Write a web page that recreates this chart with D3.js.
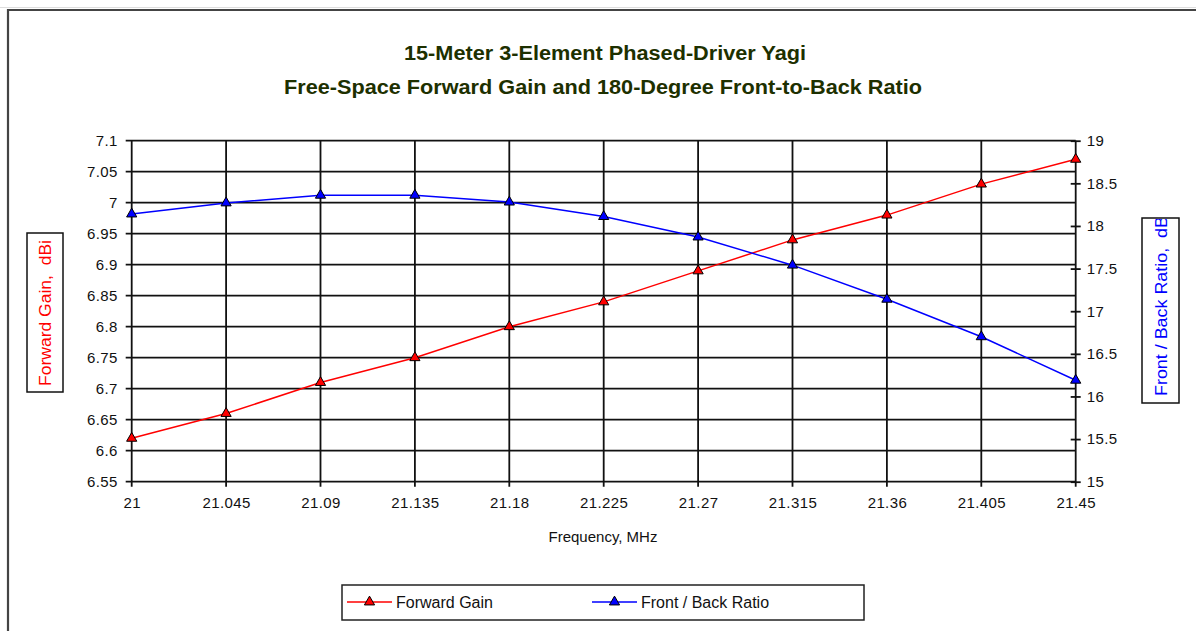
<script src="https://d3js.org/d3.v7.min.js"></script>
<style>
body { margin: 0; background: #fff; }
svg { display: block; font-family: "Liberation Sans", Arial, sans-serif; }
</style>

<svg width="1196" height="631"></svg>

<script>
const freq = [21, 21.045, 21.09, 21.135, 21.18, 21.225, 21.27, 21.315, 21.36, 21.405, 21.45];
const gain = [6.62, 6.66, 6.71, 6.75, 6.80, 6.84, 6.89, 6.94, 6.98, 7.03, 7.07];
const fbRatio = [18.14, 18.27, 18.36, 18.36, 18.28, 18.11, 17.87, 17.54, 17.14, 16.70, 16.19];

const gainTicks = [6.55, 6.6, 6.65, 6.7, 6.75, 6.8, 6.85, 6.9, 6.95, 7, 7.05, 7.1];
const fbTicks = [15, 15.5, 16, 16.5, 17, 17.5, 18, 18.5, 19];

const titleLines = ['15-Meter 3-Element Phased-Driver Yagi', 'Free-Space Forward Gain and 180-Degree Front-to-Back Ratio'];

const plotL = 131.7, plotR = 1075.7, plotT = 140.7, plotB = 481.7;

const svg = d3.select('svg');

const x = d3.scalePoint().domain(freq).range([plotL, plotR]);
const yGain = d3.scaleLinear().domain([6.55, 7.1]).range([plotB, plotT]);
const yFb = d3.scaleLinear().domain([15, 19]).range([plotB, plotT]);

// outer frame
svg.append('line').attr('x1', 0).attr('x2', 1196).attr('y1', 7.5).attr('y2', 7.5)
  .attr('stroke', '#ddd').attr('stroke-width', 1);
svg.append('path').attr('d', 'M8,631V10H1196').attr('fill', 'none')
  .attr('stroke', '#444').attr('stroke-width', 2.2);

// title
svg.selectAll('.title')
  .data(titleLines)
  .enter()
  .append('text')
  .attr('class', 'title')
  .attr('x', (d, i) => i ? 603 : 605)
  .attr('y', (d, i) => i ? 94 : 60)
  .attr('text-anchor', 'middle')
  .attr('textLength', (d, i) => i ? 638 : 402)
  .attr('lengthAdjust', 'spacingAndGlyphs')
  .style('font-family', '"Liberation Sans Narrow", "Arial Narrow", "Liberation Sans", sans-serif')
  .style('font-weight', 'bold')
  .style('font-size', '20px')
  .attr('fill', '#1d3000')
  .text(d => d);

// grid
const grid = svg.append('g').attr('stroke', '#111').attr('stroke-width', 1.8);
grid.selectAll('.h')
  .data(gainTicks)
  .enter()
  .append('line')
  .attr('x1', plotL - 6).attr('x2', plotR)
  .attr('y1', d => yGain(d)).attr('y2', d => yGain(d));
grid.selectAll('.v')
  .data(freq)
  .enter()
  .append('line')
  .attr('x1', d => x(d)).attr('x2', d => x(d))
  .attr('y1', plotT).attr('y2', plotB + 5);

// axes
const gL = svg.append('g').attr('transform', `translate(${plotL},0)`)
  .call(d3.axisLeft(yGain).tickValues(gainTicks).tickFormat(d => d).tickSize(0).tickPadding(14));
const gR = svg.append('g').attr('transform', `translate(${plotR},0)`)
  .call(d3.axisRight(yFb).tickValues(fbTicks).tickFormat(d => d).tickSize(5).tickPadding(6));
gR.selectAll('.tick line').attr('x1', -5).attr('stroke', '#111').attr('stroke-width', 1.8);
const gB = svg.append('g').attr('transform', `translate(0,${plotB})`)
  .call(d3.axisBottom(x).tickFormat(d => d).tickSize(0).tickPadding(16));
[gL, gR, gB].forEach(g => g.select('.domain').remove());
svg.selectAll('.tick text')
  .attr('font-family', null).attr('font-size', null)
  .style('font-size', '15px').style('letter-spacing', '0.4px').attr('fill', '#111');

// axis titles
svg.append('text')
  .attr('x', 603).attr('y', 542)
  .attr('text-anchor', 'middle')
  .style('font-size', '15px').attr('fill', '#111')
  .text('Frequency, MHz');

svg.append('rect').attr('x', 27).attr('y', 233).attr('width', 36).attr('height', 159)
  .attr('fill', 'none').attr('stroke', '#111').attr('stroke-width', 1.5);
svg.append('text')
  .attr('transform', 'translate(51,313) rotate(-90)')
  .attr('text-anchor', 'middle')
  .attr('textLength', 146).attr('lengthAdjust', 'spacingAndGlyphs')
  .style('font-size', '16px').attr('fill', '#f00')
  .attr('xml:space', 'preserve')
  .text('Forward Gain,  dBi');

svg.append('clipPath').attr('id', 'rclip')
  .append('rect').attr('x', 1142).attr('y', 219).attr('width', 37).attr('height', 184);
svg.append('g')
  .attr('clip-path', 'url(#rclip)')
  .append('text')
  .attr('transform', 'translate(1167,396) rotate(-90)')
  .attr('textLength', 180).attr('lengthAdjust', 'spacingAndGlyphs')
  .style('font-size', '16px').attr('fill', '#00f')
  .attr('xml:space', 'preserve')
  .text('Front / Back Ratio,  dB');
svg.append('rect').attr('x', 1142).attr('y', 218).attr('width', 37).attr('height', 185)
  .attr('fill', 'none').attr('stroke', '#111').attr('stroke-width', 1.5);

// series
const series = [
  { name: 'Forward Gain', values: gain, y: yGain, color: '#f00' },
  { name: 'Front / Back Ratio', values: fbRatio, y: yFb, color: '#00f' }
];
const tri = d3.symbol().type(d3.symbolTriangle).size(45);

series.forEach(s => {
  const line = d3.line().x((d, i) => x(freq[i])).y(d => s.y(d));
  svg.append('path').attr('d', line(s.values)).attr('fill', 'none')
    .attr('stroke', s.color).attr('stroke-width', 1.5);
  svg.selectAll(null)
    .data(s.values)
    .enter()
    .append('path')
    .attr('d', tri)
    .attr('transform', (d, i) => `translate(${x(freq[i])},${s.y(d)})`)
    .attr('fill', s.color).attr('stroke', '#000').attr('stroke-width', 1);
});

// legend
const legend = svg.append('g');
legend.append('rect').attr('x', 342).attr('y', 585).attr('width', 522).attr('height', 35)
  .attr('fill', '#fff').attr('stroke', '#222').attr('stroke-width', 1.5);
const items = legend.selectAll('.item')
  .data(series)
  .enter()
  .append('g')
  .attr('transform', (d, i) => `translate(${i ? 592 : 347},602)`);
items.append('line').attr('x1', 0).attr('x2', 45).attr('stroke', d => d.color).attr('stroke-width', 1.5);
items.append('path').attr('d', tri).attr('transform', 'translate(22.5,0)')
  .attr('fill', d => d.color).attr('stroke', '#000').attr('stroke-width', 1);
items.append('text').attr('x', 49).attr('y', 5.5)
  .style('font-size', '16px').attr('fill', '#111')
  .text(d => d.name);
</script>
